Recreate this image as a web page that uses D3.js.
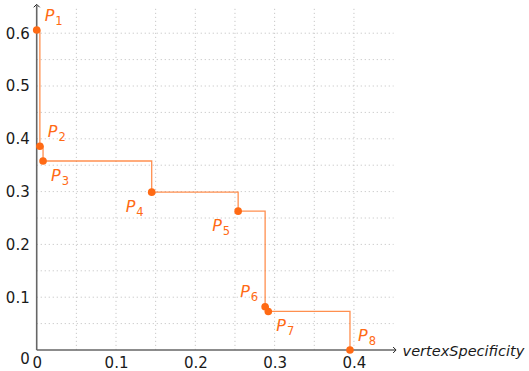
<!DOCTYPE html>
<html>
<head>
<meta charset="utf-8">
<script src="https://cdn.jsdelivr.net/npm/d3@7"></script>
<style>
  html, body { margin: 0; padding: 0; background: #fff; }
  svg { display: block; }
</style>
</head>
<body>
<svg id="chart" width="529" height="371"></svg>
<script>
// Pareto front points P1..P8
const pointNames = ["1", "2", "3", "4", "5", "6", "7", "8"];
const specificity = [0, 0.004, 0.008, 0.145, 0.254, 0.288, 0.292, 0.395];
const sensitivity = [0.606, 0.386, 0.358, 0.299, 0.263, 0.082, 0.073, 0];
const labelSides = ["ne", "ne", "se", "sw", "sw", "nw", "se", "ne"];

const xTicks = [0, 0.1, 0.2, 0.3, 0.4];
const yTicks = [0, 0.1, 0.2, 0.3, 0.4, 0.5, 0.6];
const xGrid = [0.05, 0.1, 0.15, 0.2, 0.25, 0.3, 0.35, 0.4];
const yGrid = [0.05, 0.1, 0.15, 0.2, 0.25, 0.3, 0.35, 0.4, 0.45, 0.5, 0.55, 0.6];
const xAxisTitle = "vertexSpecificity";

const svg = d3.select("#chart");
const x = d3.scaleLinear().domain([0, 0.45]).range([36.7, 393.6]);
const y = d3.scaleLinear().domain([0, 0.65]).range([350, 6.8]);

const orange = "#ff6a14";
const font = "'DejaVu Sans', sans-serif";

// dotted grid
const grid = svg.append("g")
  .attr("stroke", "#c8c8c8")
  .attr("stroke-width", 1)
  .attr("stroke-dasharray", "1.2,2.8");
grid.selectAll("line.v").data(xGrid).join("line")
  .attr("x1", d => x(d)).attr("x2", d => x(d))
  .attr("y1", y(0)).attr("y2", y(0.65));
grid.selectAll("line.h").data(yGrid).join("line")
  .attr("x1", x(0)).attr("x2", x(0.45))
  .attr("y1", d => y(d)).attr("y2", d => y(d));

// axes with arrow tips
const axisColor = "#666";
svg.append("line")
  .attr("x1", x(0)).attr("x2", x(0.45) + 1.5)
  .attr("y1", y(0)).attr("y2", y(0))
  .attr("stroke", axisColor).attr("stroke-width", 1.6);
svg.append("line")
  .attr("x1", x(0)).attr("x2", x(0))
  .attr("y1", y(0)).attr("y2", y(0.65) - 1.5)
  .attr("stroke", axisColor).attr("stroke-width", 1.6);
const ax = x(0.45) + 2.5, ay = y(0);
svg.append("path")
  .attr("d", `M${ax - 3},${ay - 3} L${ax},${ay} L${ax - 3},${ay + 3}`)
  .attr("fill", "none").attr("stroke", "#222").attr("stroke-width", 1);
const bx = x(0), by = y(0.65) - 2.5;
svg.append("path")
  .attr("d", `M${bx - 3},${by + 3} L${bx},${by} L${bx + 3},${by + 3}`)
  .attr("fill", "none").attr("stroke", "#222").attr("stroke-width", 1);

// tick labels through d3 axes
const xAxis = svg.append("g")
  .attr("transform", `translate(0,${y(0)})`)
  .call(d3.axisBottom(x).tickValues(xTicks).tickSize(0).tickPadding(7)
    .tickFormat(d => d === 0 ? "0" : d3.format(".1f")(d)));
const yAxis = svg.append("g")
  .attr("transform", `translate(${x(0)},0)`)
  .call(d3.axisLeft(y).tickValues(yTicks).tickSize(0).tickPadding(7)
    .tickFormat(d => d === 0 ? "0" : d3.format(".1f")(d)));
[xAxis, yAxis].forEach(g => {
  g.select(".domain").remove();
  g.selectAll("text")
    .attr("font-family", font).attr("font-size", 15).attr("fill", "#1a1a1a");
});
xAxis.selectAll("text").attr("dy", "0.71em");
yAxis.select(".tick text").attr("dy", "0.9em");

svg.append("text")
  .attr("x", x(0.45) + 9).attr("y", y(0) + 6)
  .attr("font-family", font).attr("font-style", "italic")
  .attr("font-size", 14.5).attr("fill", "#1a1a1a")
  .text(xAxisTitle);

// step line joining the points
const pts = specificity.map((s, i) => [s, sensitivity[i]]);
const line = d3.line().x(d => x(d[0])).y(d => y(d[1])).curve(d3.curveStepAfter);
svg.append("path")
  .datum(pts)
  .attr("d", line)
  .attr("fill", "none")
  .attr("stroke", orange)
  .attr("stroke-opacity", 0.75)
  .attr("stroke-width", 1.3);

// points
svg.selectAll("circle.pt").data(pts).join("circle")
  .attr("class", "pt")
  .attr("cx", d => x(d[0])).attr("cy", d => y(d[1]))
  .attr("r", 3.8).attr("fill", orange);

// point labels P_i
const offsets = {
  ne: { dx: 8, dy: -9, anchor: "start" },
  se: { dx: 8, dy: 20, anchor: "start" },
  sw: { dx: -8, dy: 20, anchor: "end" },
  nw: { dx: -7, dy: -10, anchor: "end" }
};
pts.forEach((d, i) => {
  const o = offsets[labelSides[i]];
  const t = svg.append("text")
    .attr("x", x(d[0]) + o.dx).attr("y", y(d[1]) + o.dy)
    .attr("text-anchor", o.anchor)
    .attr("font-family", font).attr("fill", orange);
  t.append("tspan").attr("font-style", "italic").attr("font-size", 16).text("P");
  t.append("tspan").attr("font-size", 11.5).attr("dy", 4).attr("dx", 1).text(pointNames[i]);
});
</script>
</body>
</html>
